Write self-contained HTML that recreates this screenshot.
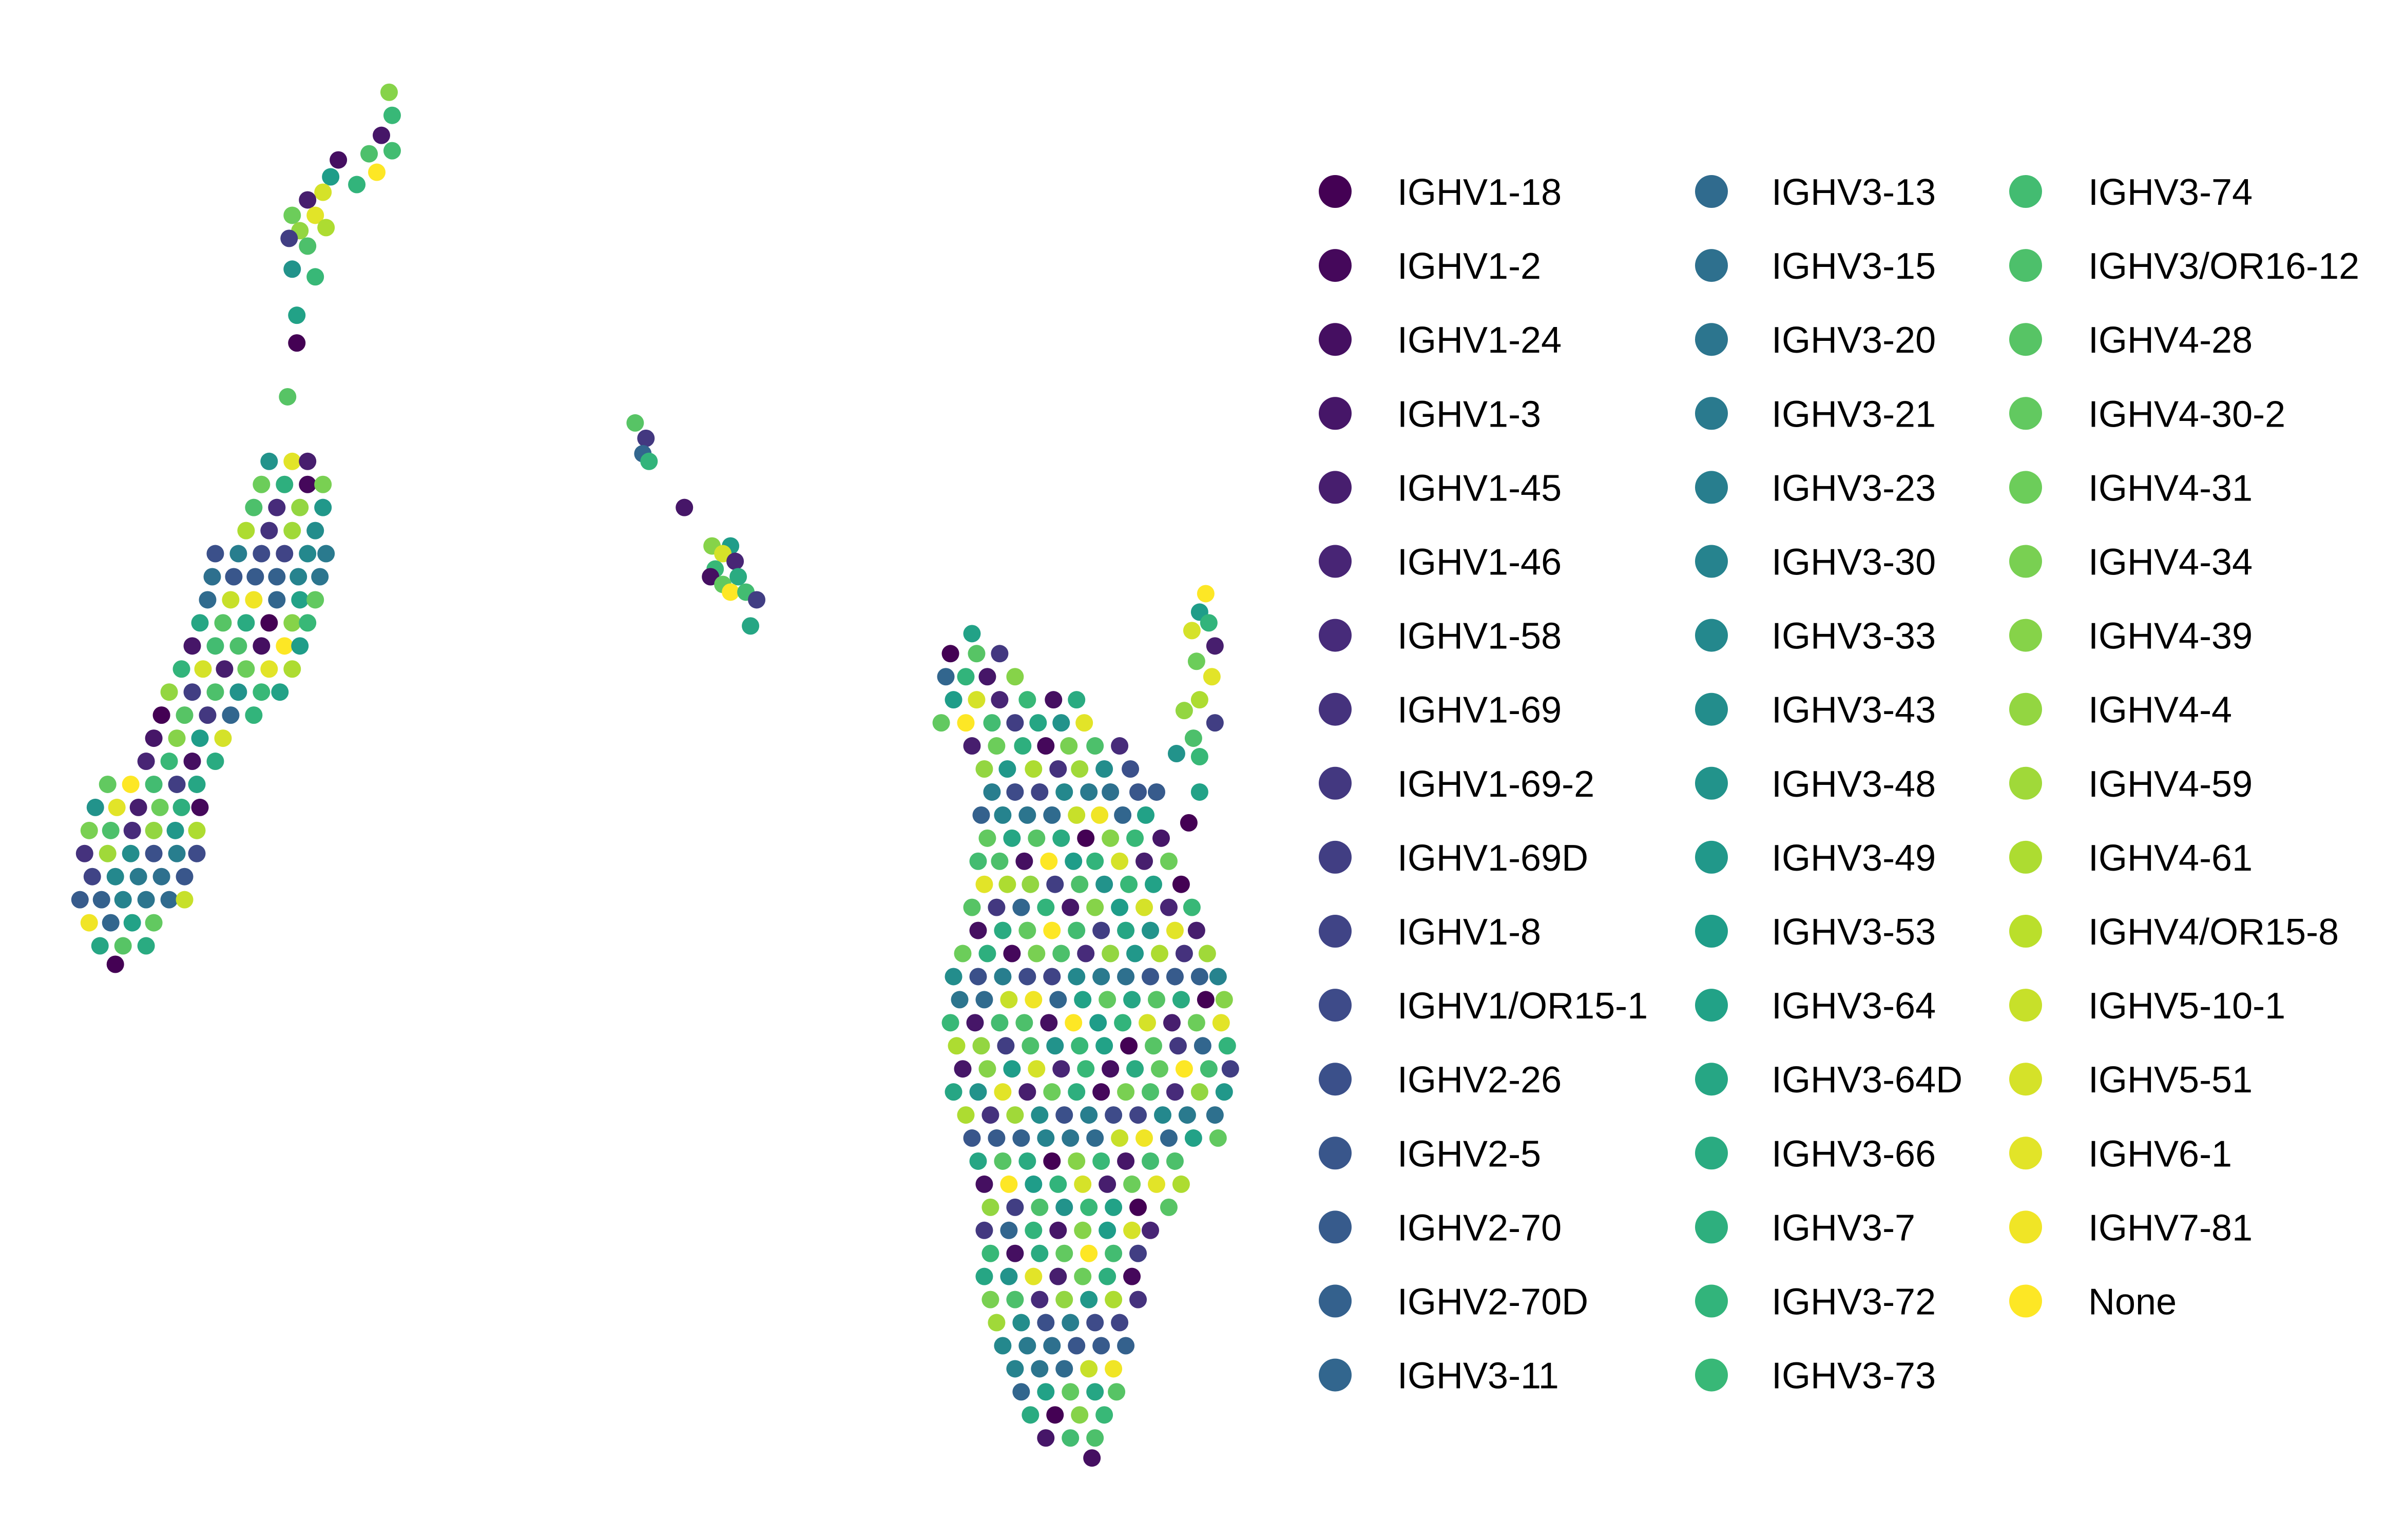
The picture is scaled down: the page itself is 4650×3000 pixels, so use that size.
<!DOCTYPE html>
<html><head><meta charset="utf-8">
<style>
html,body{margin:0;padding:0;background:#fff;}
svg{display:block;}
text{font-family:"Liberation Sans",Arial,sans-serif;}
</style></head>
<body>
<svg id="chart" width="4650" height="3000" viewBox="0 0 4650 3000" xmlns="http://www.w3.org/2000/svg">
<g id="points"></g>
<g id="legend"></g>
</svg>
<script>
// legend categories
const categories = ["IGHV1-18","IGHV1-2","IGHV1-24","IGHV1-3","IGHV1-45","IGHV1-46","IGHV1-58","IGHV1-69","IGHV1-69-2","IGHV1-69D","IGHV1-8","IGHV1/OR15-1","IGHV2-26","IGHV2-5","IGHV2-70","IGHV2-70D","IGHV3-11",
"IGHV3-13","IGHV3-15","IGHV3-20","IGHV3-21","IGHV3-23","IGHV3-30","IGHV3-33","IGHV3-43","IGHV3-48","IGHV3-49","IGHV3-53","IGHV3-64","IGHV3-64D","IGHV3-66","IGHV3-7","IGHV3-72","IGHV3-73",
"IGHV3-74","IGHV3/OR16-12","IGHV4-28","IGHV4-30-2","IGHV4-31","IGHV4-34","IGHV4-39","IGHV4-4","IGHV4-59","IGHV4-61","IGHV4/OR15-8","IGHV5-10-1","IGHV5-51","IGHV6-1","IGHV7-81","None"];
// scatter rows: [y, x1, x2, ...] in display units (scale 3 to full)
const rows = [
[412,632],[425,618,635,650],[440,615,628,642,660],[455,620,635,650,668,685,700],
[470,612,628,645,660,675,690,705],[485,632,648,665,680,695,712,728],[500,640,655,672,688,702,718,735],
[515,645,660,676,692,708,722,740,752],[530,638,652,668,684,700,715,730,745],[545,642,658,674,690,706,722,738,755],
[560,636,650,666,682,698,712,728,744,760],[575,640,655,670,686,702,718,734,750,768],
[590,632,648,664,680,696,712,728,744,760,775],[605,636,652,668,684,700,716,732,748,764,778],
[620,626,642,658,674,690,706,722,738,754,770,785],[635,620,636,652,668,684,700,716,732,748,764,780,792],
[650,624,640,656,672,688,704,720,736,752,768,784,796],[665,618,634,650,666,682,698,714,730,746,762,778,794],
[680,622,638,654,670,686,702,718,734,750,766,782,798],[695,626,642,658,674,690,706,722,738,754,770,786,800],
[710,620,636,652,668,684,700,716,732,748,764,780,796],[725,628,644,660,676,692,708,724,740,756,772,790],
[740,632,648,664,680,696,712,728,744,760,776,792],[755,636,652,668,684,700,716,732,748,764],
[770,640,656,672,688,704,720,736,752,768],[785,644,660,676,692,708,724,740,760],
[800,640,656,672,688,704,720,736,748],[815,644,660,676,692,708,724,740],[830,640,656,672,688,704,720,736],
[845,644,660,676,692,708,724,740],[860,648,664,680,696,712,728],[875,652,668,684,700,716,732],
[890,660,676,692,708,724],[905,664,680,696,712,726],[920,670,686,702,718],[935,680,696,712],[948,710],
[386,784],[398,780],[405,786],[410,775],[420,790],[430,778],[440,788],[455,780],[462,770],[470,790],[480,776],[490,765],[492,780],[515,780],[535,773],
[275,413],[285,420],[295,418],[300,422],[330,445],[355,463,475],[360,470],[365,478],[370,465],[375,462,480],[380,470],[385,475,485],[390,492],[407,488],
[300,175,190,200],[315,170,185,200,210],[330,165,180,195,210],[345,160,175,190,205],[360,140,155,170,185,200,212],
[375,138,152,166,180,194,208],[390,135,150,165,180,195,205],[405,130,145,160,175,190,200],[420,125,140,155,170,185,195],
[435,118,132,146,160,175,190],[450,110,125,140,155,170,182],[465,105,120,135,150,165],[480,100,115,130,145],
[495,95,110,125,140],[510,70,85,100,115,128],[525,62,76,90,104,118,130],[540,58,72,86,100,114,128],
[555,55,70,85,100,115,128],[570,60,75,90,105,120],[585,52,66,80,95,110,120],[600,58,72,86,100],[615,65,80,95],[627,75],
[60,253],[75,255],[88,248],[98,255],[100,240],[104,220],[112,245],[115,215],[120,232],[125,210],[130,200],[140,190,205],
[148,212],[150,195],[155,188],[160,200],[175,190],[180,205],[205,193],[223,193],[258,187]
];
// category code per point (char code - 48 = category index), cycled
const catCodes = "L0T8@P3XK^5Q2NUaR9MI_4VO1WS6YJ[7ZH<E;:GDB=>?FCA]`@LUMTN0XQ3RS2aKP^4V_[Y9SIQ";
const SCALE = 2.996;
const POINT_R = 17;

function viridis(t){
  const s=[[68,1,84],[72,40,120],[62,74,137],[49,104,142],[38,130,142],[31,158,137],[53,183,121],[109,205,89],[180,222,44],[253,231,37]];
  const p=t*(s.length-1),i=Math.min(Math.floor(p),s.length-2),f=p-i;
  const c=s[i].map((v,k)=>Math.round(v+(s[i+1][k]-v)*f));
  return `rgb(${c[0]},${c[1]},${c[2]})`;
}
function color(idx){return viridis(idx/(categories.length-1));}
const xs=v=>v*SCALE, ys=v=>v*SCALE;
const NS="http://www.w3.org/2000/svg";
const pg=document.getElementById('points');
let k=0;
rows.forEach(r=>{
  for(let j=1;j<r.length;j++){
    const cat=Math.max(0,Math.min(categories.length-1,catCodes.charCodeAt(k%catCodes.length)-48));
    k++;
    const c=document.createElementNS(NS,'circle');
    c.setAttribute('cx',xs(r[j]));c.setAttribute('cy',ys(r[0]));c.setAttribute('r',POINT_R);
    c.setAttribute('fill',color(cat));
    
    
    pg.appendChild(c);
  }
});
const lg=document.getElementById('legend');
const colX=[[2601,2722],[3334,3451],[3946,4068]];
const perCol=17;
categories.forEach((name,i)=>{
  const col=Math.floor(i/perCol),row=i%perCol;
  const y=373+row*144.1;
  const g=document.createElementNS(NS,'g');
  
  
  const c=document.createElementNS(NS,'circle');
  c.setAttribute('cx',colX[col][0]);c.setAttribute('cy',y);c.setAttribute('r',32);
  c.setAttribute('fill',color(i));
  
  
  const t=document.createElementNS(NS,'text');
  t.setAttribute('x',colX[col][1]);t.setAttribute('y',y+26);
  t.setAttribute('font-size','72');t.setAttribute('fill','#000');
  t.textContent=name;
  
  
  g.appendChild(c);g.appendChild(t);lg.appendChild(g);
});
</script>
</body></html>
